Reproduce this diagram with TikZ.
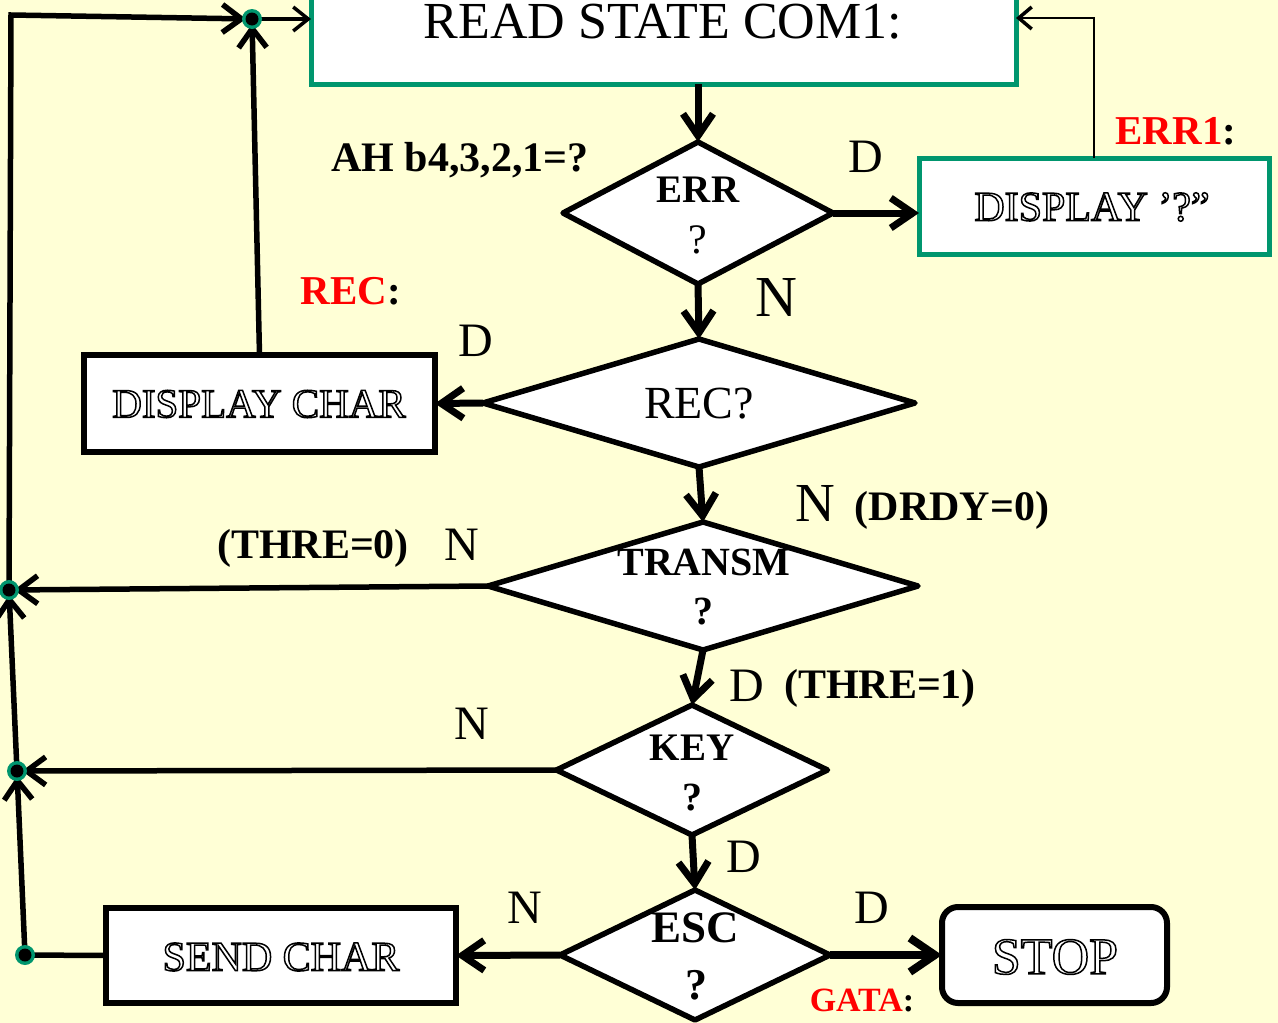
\documentclass[tikz,border=0pt]{standalone}
\usepackage{fontspec}
\setmainfont{Liberation Serif}
\usetikzlibrary{shapes.geometric,arrows.meta}
\definecolor{bgyellow}{RGB}{255,255,214}
\definecolor{boxgreen}{RGB}{0,150,110}
\newcommand{\fs}[1]{\fontsize{#1}{#1}\selectfont}
% hollow (outlined) lettering: stroke the glyph outlines only
\newcommand{\hollow}[1]{\special{pdf:literal direct 1 Tr 1.5 w}#1\special{pdf:literal direct 0 Tr}}
\begin{document}
\begin{tikzpicture}[x=1pt,y=-1pt,
  flow/.style={line width=7pt,-{Straight Barb[length=22pt,width=30pt]}},
  loop/.style={line width=5.5pt,-{Straight Barb[length=19pt,width=28pt]}},
  thinflow/.style={line width=2.5pt,-{Straight Barb[length=13pt,width=22pt,line width=3.5pt]}},
  procbox/.style={rectangle,draw=black,line width=6pt,fill=white,inner sep=0pt,outer sep=0pt},
  greenbox/.style={procbox,draw=boxgreen,line width=5pt},
  decision/.style={diamond,draw=black,line width=5.5pt,line join=round,fill=white,inner sep=0pt,outer sep=0pt},
  lbl/.style={inner sep=0pt,outer sep=0pt,text=black},
  yn/.style={lbl,font=\fs{48}},
  cond/.style={lbl,font=\fs{42}\bfseries},
]
% page and background
\useasboundingbox (0,0) rectangle (1278,1023);
\fill[bgyellow] (0,0) rectangle (1278,1023);

% process boxes
\node[greenbox,minimum width=705pt,minimum height=110pt] (rd) at (663.5,29) {};
\node[lbl,font=\fs{52}] (rdtxt) at (663,22) {READ STATE COM1:};
\node[greenbox,minimum width=350pt,minimum height=96pt] (dq) at (1094,206) {};
\node[lbl,font=\fs{42}] (dqtxt) at (1092,207) {\hollow{DISPLAY ’?”}};
\node[procbox,minimum width=351pt,minimum height=97pt] (dc) at (259.5,403.5) {};
\node[lbl,font=\fs{41}] (dctxt) at (259,404) {\hollow{DISPLAY CHAR}};
\node[procbox,minimum width=350pt,minimum height=95pt] (sc) at (281,955.5) {};
\node[lbl,font=\fs{42}] (sctxt) at (281,957) {\hollow{SEND CHAR}};
\node[procbox,rounded corners=16pt,minimum width=225pt,minimum height=96pt] (stop) at (1054.5,955) {};
\node[lbl,font=\fs{52}] (stoptxt) at (1055,957) {\hollow{STOP}};

% decisions
\node[decision,minimum width=270pt,minimum height=142pt] (err) at (698,213) {};
\node[lbl,font=\fs{39}\bfseries] (errtxt) at (698,190) {ERR};
\node[lbl,font=\fs{42}] (errq) at (698,240) {?};
\node[decision,minimum width=432pt,minimum height=128pt] (rec) at (699,403) {};
\node[lbl,font=\fs{46}] (rectxt) at (699,404) {REC?};
\node[decision,minimum width=430pt,minimum height=128pt] (tr) at (703,586) {};
\node[lbl,font=\fs{40}\bfseries] (trtxt) at (704,562) {TRANSM};
\node[lbl,font=\fs{40}\bfseries] (trq) at (703,612) {?};
\node[decision,minimum width=271pt,minimum height=130pt] (key) at (692,770) {};
\node[lbl,font=\fs{39}\bfseries] (keytxt) at (692,748) {KEY};
\node[lbl,font=\fs{40}\bfseries] (keyq) at (692,798) {?};
\node[decision,minimum width=270pt,minimum height=130pt] (esc) at (695,955) {};
\node[lbl,font=\fs{45}\bfseries] (esctxt) at (695,928) {ESC};
\node[lbl,font=\fs{44}\bfseries] (escq) at (696,985) {?};

% junction points of the return path
\coordinate (jTop) at (252,19);
\coordinate (jL1) at (9,590);
\coordinate (jL2) at (17,771);
\coordinate (jL3) at (25,955);
\coordinate (corner) at (11,15);
\coordinate (ret) at (1094,18);

% main flow
\draw[flow] (rd.south -| err.north) -- (err.north);
\draw[flow] (err.east) -- (dq.west |- err.east);
\draw[flow] (err.south) -- (rec.north);
\draw[flow] (rec.west) -- (dc.east);
\draw[flow] (rec.south) -- (tr.north);
\draw[flow] (tr.south) -- (key.north);
\draw[flow] (key.south) -- (esc.north);
\draw[flow] (esc.west) -- (sc.east);
\draw[line width=8pt,-{Straight Barb[length=25pt,width=34pt]}] (esc.east) -- (stop.west);

% return paths
\draw[loop,shorten >=5pt] (tr.west) -- (jL1);
\draw[loop,shorten >=5pt] (key.west) -- (jL2);
\draw[line width=5.5pt] (sc.west) -- (jL3);
\draw[loop,shorten >=5pt] (jL3) -- (jL2);
\draw[loop,shorten >=5pt] (jL2) -- (jL1);
\draw[loop,shorten >=6pt] (jL1) -- (corner) -- (jTop);
\draw[loop,shorten >=5pt] (dc.north) -- (jTop);
\draw[line width=3.5pt,-{Straight Barb[length=15pt,width=24pt]}] (jTop) -- (rd.west |- jTop);
\draw[thinflow] (dq.north) -- (ret) -- (rd.east |- ret);

% junction dots
\foreach \p in {jTop,jL1,jL2,jL3} {
  \fill[boxgreen] (\p) circle (10pt);
  \fill[black] (\p) circle (6.5pt);
}

% branch and register labels
\node[cond] (ah) at (460,160) {AH b4,3,2,1=?};
\node[yn] (d1) at (866,157) {D};
\node[lbl,font=\fs{41}\bfseries] (err1) at (1176,131) {\textcolor{red}{ERR1}:};
\node[yn,font=\fs{58}] (n1) at (776,298) {N};
\node[lbl,font=\fs{41}\bfseries] (reclbl) at (351,291) {\textcolor{red}{REC}:};
\node[yn] (d2) at (476,341) {D};
\node[yn,font=\fs{55}] (n2) at (815,503) {N};
\node[cond] (drdy) at (952,510) {(DRDY=0)};
\node[cond] (thre0) at (313,548) {(THRE=0)};
\node[yn] (n3) at (462,545) {N};
\node[yn] (d3) at (747,686) {D};
\node[cond] (thre1) at (880,688) {(THRE=1)};
\node[yn] (n4) at (472,724) {N};
\node[yn] (d4) at (744,857) {D};
\node[yn] (n5) at (525,908) {N};
\node[yn] (d5) at (872,908) {D};
\node[lbl,font=\fs{34}\bfseries] (gata) at (862,1000) {\textcolor{red}{GATA}:};
\end{tikzpicture}
\end{document}
